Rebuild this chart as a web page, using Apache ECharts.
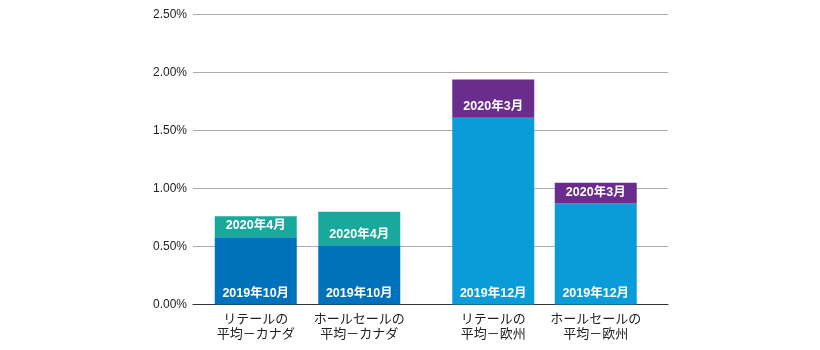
<!DOCTYPE html>
<html>
<head>
<meta charset="utf-8">
<script src="https://cdn.jsdelivr.net/npm/echarts@6/dist/echarts.min.js"></script>
<style>
  html, body { margin: 0; padding: 0; background: #fff; }
  #chart { width: 820px; height: 350px; }
</style>
</head>
<body>
<div id="chart"></div>
<script>
// データ（%）
var categoriesCanada = ['リテールの\n平均－カナダ', 'ホールセールの\n平均－カナダ'];
var categoriesEurope = ['リテールの\n平均－欧州', 'ホールセールの\n平均－欧州'];
var baseCanada = [0.58, 0.51];   // 2019年10月
var riseCanada = [0.18, 0.29];   // 2020年4月 までの増分
var baseEurope = [1.61, 0.87];   // 2019年12月
var riseEurope = [0.33, 0.18];   // 2020年3月 までの増分
var baseLabelCanada = '2019年10月';
var topLabelCanada = '2020年4月';
var baseLabelEurope = '2019年12月';
var topLabelEurope = '2020年3月';
var yTicks = [0, 0.5, 1, 1.5, 2, 2.5];

var FONT = '"Liberation Sans", "Noto Sans CJK JP", sans-serif';
var chart = echarts.init(document.getElementById('chart'));

function hiddenY(idx) {
  return {
    type: 'value', gridIndex: idx, min: 0, max: 2.5, interval: 0.5,
    show: false, splitLine: { show: false }
  };
}
function catX(idx, data) {
  return {
    type: 'category', gridIndex: idx, data: data,
    axisLine: { show: false }, axisTick: { show: false },
    axisLabel: { color: '#222', fontSize: 13, lineHeight: 15, margin: 7, fontFamily: FONT, interval: 0 }
  };
}
function barLabel(text) {
  return {
    show: true, position: 'insideBottom', distance: 5,
    formatter: text, color: '#fff', fontSize: 12.5, fontWeight: 'bold', fontFamily: FONT
  };
}
function stack(idx, base, rise, c1, c2, l1, l2, name) {
  return [
    {
      type: 'bar', xAxisIndex: idx, yAxisIndex: idx, stack: name, data: base,
      barWidth: 82, itemStyle: { color: c1 }, label: barLabel(l1), silent: true
    },
    {
      type: 'bar', xAxisIndex: idx, yAxisIndex: idx, stack: name, data: rise,
      barWidth: 82, itemStyle: { color: c2 }, label: barLabel(l2), silent: true
    }
  ];
}

chart.setOption({
  animation: false,
  grid: [
    { left: 193, width: 475, top: 14.5, height: 290 },
    { left: 204, width: 207, top: 14.5, height: 290 },
    { left: 442, width: 205, top: 14.5, height: 290 }
  ],
  xAxis: [
    {
      type: 'category', gridIndex: 0, data: [''],
      axisLine: { show: true, lineStyle: { color: '#333', width: 1 } },
      axisTick: { show: false }, axisLabel: { show: false }
    },
    catX(1, categoriesCanada),
    catX(2, categoriesEurope)
  ],
  yAxis: [
    {
      type: 'value', gridIndex: 0, min: yTicks[0], max: yTicks[yTicks.length - 1], interval: 0.5,
      axisLine: { show: false }, axisTick: { show: false },
      axisLabel: {
        color: '#222', fontSize: 12, margin: 6, fontFamily: FONT,
        formatter: function (v) { return v.toFixed(2) + '%'; }
      },
      splitLine: { lineStyle: { color: '#aaa', width: 1 } }
    },
    hiddenY(1),
    hiddenY(2)
  ],
  series: [].concat(
    stack(1, baseCanada, riseCanada, '#0071bb', '#19a99c', baseLabelCanada, topLabelCanada, 'ca'),
    stack(2, baseEurope, riseEurope, '#0a9cd8', '#6a2d8e', baseLabelEurope, topLabelEurope, 'eu')
  )
});
</script>
</body>
</html>
